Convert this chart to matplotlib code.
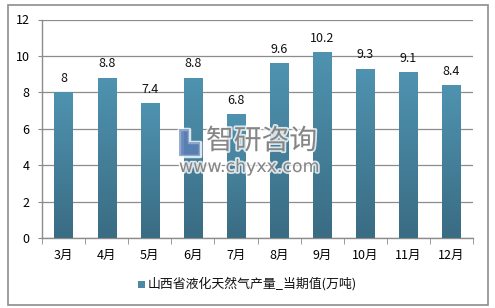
import numpy as np
import matplotlib
matplotlib.use("Agg")
import matplotlib.pyplot as plt
import matplotlib.patheffects as pe
from matplotlib.patches import Rectangle
from matplotlib.colors import LinearSegmentedColormap

plt.rcParams['font.family'] = ['Noto Sans CJK SC', 'DejaVu Sans']

months = ['3月', '4月', '5月', '6月', '7月', '8月', '9月', '10月', '11月', '12月']
values = [8, 8.8, 7.4, 8.8, 6.8, 9.6, 10.2, 9.3, 9.1, 8.4]
value_labels = ['8', '8.8', '7.4', '8.8', '6.8', '9.6', '10.2', '9.3', '9.1', '8.4']
series_name = '山西省液化天然气产量_当期值(万吨)'
yticks = [0, 2, 4, 6, 8, 10, 12]

W, H = 495, 308
fig = plt.figure(figsize=(W / 100, H / 100), dpi=100)
fig.patch.set_facecolor('white')

# outer frame
fig.patches.append(Rectangle((8 / W, 3 / H), 480 / W, 300 / H, transform=fig.transFigure,
                             fill=False, edgecolor='#8c8c8c', linewidth=1.2))

ax = fig.add_axes([42 / W, 1 - 238 / H, 431 / W, (238 - 19.5) / H])
x = np.arange(len(months))
bars = ax.bar(x, values, width=0.42, color='#4a8aa5', zorder=3)

cmap = LinearSegmentedColormap.from_list('g', ['#3a6c83', '#4f93b0'])
grad = np.linspace(0, 1, 256).reshape(-1, 1)
for b in bars:
    x0, w, h = b.get_x(), b.get_width(), b.get_height()
    im = ax.imshow(grad, cmap=cmap, aspect='auto', origin='lower',
                   extent=(x0, x0 + w, 0, h), zorder=3.5)
    im.set_clip_path(b)

for xi, v, lab in zip(x, values, value_labels):
    ax.text(xi, v + 0.4, lab, ha='center', va='bottom', fontsize=9, color='#111111', zorder=5)

ax.set_xlim(-0.5, len(months) - 0.5)
ax.set_ylim(0, 12)
ax.set_yticks(yticks)
ax.set_yticklabels([str(t) for t in yticks], fontsize=9)
ax.set_xticks(x)
ax.set_xticklabels(months, fontsize=9)
ax.set_xticks(np.arange(-0.5, len(months), 1), minor=True)
ax.tick_params(axis='x', which='major', length=0, pad=8)
ax.tick_params(axis='x', which='minor', length=4, color='#8c8c8c', direction='out')
ax.tick_params(axis='y', length=3, color='#8c8c8c', pad=6)
ax.grid(axis='y', color='#8c8c8c', linewidth=0.9, zorder=0)
for s in ['top', 'right']:
    ax.spines[s].set_visible(False)
for s in ['left', 'bottom']:
    ax.spines[s].set_color('#8c8c8c')
    ax.spines[s].set_linewidth(1.0)

# watermark
glow = [pe.withStroke(linewidth=2.5, foreground='white', alpha=0.8)]
fig.text(179 / W, 1 - 142 / H, '▙', fontsize=19, color='#5b7fb5', alpha=0.6,
         ha='left', va='center', family=['DejaVu Sans'], path_effects=glow)
fig.text(206 / W, 1 - 141 / H, '智研咨询', fontsize=20, color='#858585',
         ha='left', va='center', path_effects=glow)
fig.text(179 / W, 1 - 167 / H, 'www.chyxx.com', fontsize=12.5, color='#858585',
         ha='left', va='center', family=['DejaVu Sans'], path_effects=glow)

# legend
fig.patches.append(Rectangle((138 / W, 1 - 288 / H), 7 / W, 7 / H, transform=fig.transFigure,
                             facecolor='#4a8aa5', edgecolor='none'))
fig.text(148 / W, 1 - 284 / H, series_name, fontsize=9.3, ha='left', va='center', color='#111111')

fig.savefig('out.png', dpi=100)
